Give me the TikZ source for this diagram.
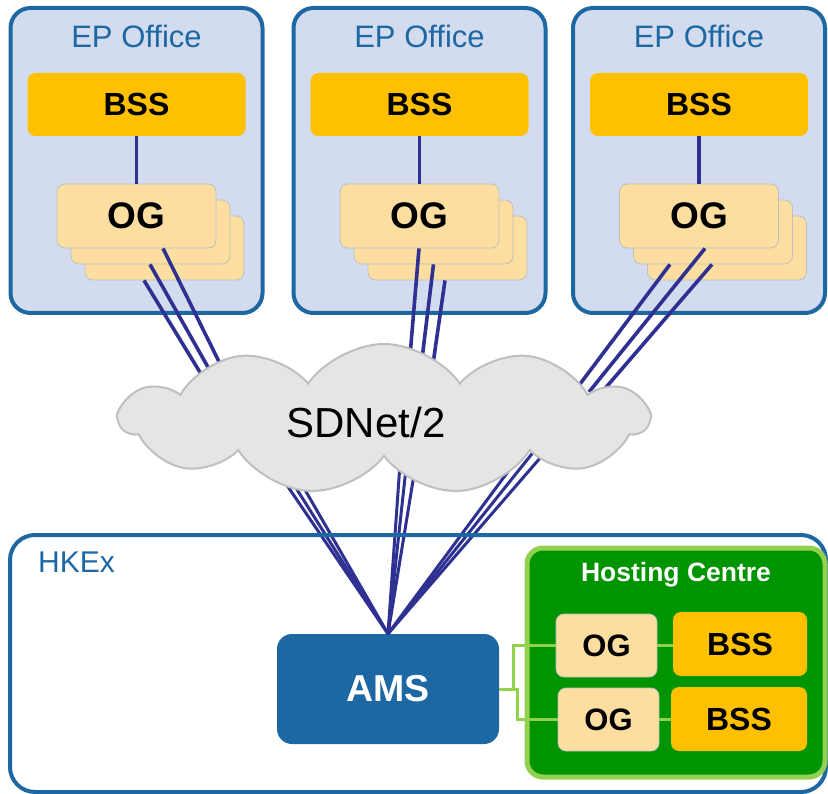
\documentclass[tikz,border=0pt]{standalone}
\usepackage{fontspec}
\setmainfont{Liberation Sans}
\usetikzlibrary{calc,shapes.symbols}

\definecolor{epblue}{RGB}{29,104,162}
\definecolor{epfill}{RGB}{211,220,238}
\definecolor{bssorange}{RGB}{255,192,0}
\definecolor{ogpeach}{RGB}{252,222,160}
\definecolor{oggrey}{RGB}{191,191,191}
\definecolor{linknavy}{RGB}{46,49,146}
\definecolor{cloudgrey}{RGB}{229,229,229}
\definecolor{hcgreen}{RGB}{0,148,0}
\definecolor{hclight}{RGB}{146,208,80}

\tikzset{
	office/.style={draw=epblue, line width=4pt, fill=epfill, rounded corners=20pt, minimum width=252pt, minimum height=305pt, inner sep=0pt},
	bssbox/.style={fill=bssorange, rounded corners=8pt, minimum width=218pt, minimum height=63pt, inner sep=0pt, font=\fontsize{32}{36}\selectfont\bfseries},
	ogbox/.style={draw=oggrey, line width=0.8pt, fill=ogpeach, rounded corners=8pt, minimum width=159pt, minimum height=64pt, inner sep=0pt, font=\fontsize{37}{42}\selectfont\bfseries},
	navylink/.style={draw=linknavy, line width=3.6pt},
	greenlink/.style={draw=hclight, line width=3pt},
}

\begin{document}
\begin{tikzpicture}[x=1pt, y=-1pt]
			%%%%% START %%%%%
			\useasboundingbox (0,0) rectangle (828,794);
			
			% the three EP offices
			\foreach \cx/\n in {136.5/1, 419.5/2, 699/3} {
				\node[office] (ep\n) at (\cx,160.5) {};
				\node[text=epblue, font=\fontsize{31}{36}\selectfont, inner sep=0pt] (eplabel\n) at (\cx,36) {EP Office};
				\node[bssbox] (bss\n) at (\cx,104.5) {BSS};
				\node[ogbox] (ogc\n) at (\cx+28,248) {};
				\node[ogbox] (ogb\n) at (\cx+14,232) {};
				\node[ogbox] (og\n) at (\cx,216) {OG};
				\draw[navylink] (bss\n) -- (og\n);
			}
			
			% OG to cloud
			\coordinate (in1a) at (234,392);
			\coordinate (in1b) at (222,392);
			\coordinate (in1c) at (212,392);
			\coordinate (in2a) at (407,392);
			\coordinate (in2b) at (418,392);
			\coordinate (in2c) at (429,392);
			\coordinate (in3a) at (589,392);
			\coordinate (in3b) at (574,392);
			\coordinate (in3c) at (602,392);
			\draw[navylink] ($(og1.south)+(26.5,0)$) -- (in1a);
			\draw[navylink] ($(ogb1.south)+(-0.5,0)$) -- (in1b);
			\draw[navylink] ($(ogc1.south)+(-20.5,0)$) -- (in1c);
			\draw[navylink] ($(og2.south)+(-0.5,0)$) -- (in2a);
			\draw[navylink] (ogb2.south) -- (in2b);
			\draw[navylink] ($(ogc2.south)+(-2.5,0)$) -- (in2c);
			\draw[navylink] ($(og3.south)+(6,0)$) -- (in3a);
			\draw[navylink] ($(ogb3.south)+(-43,0)$) -- (in3b);
			\draw[navylink] ($(ogb3.south)+(-1,0)$) -- (in3c);
			
			% AMS
			\node[fill=epblue, rounded corners=15pt, minimum width=222pt, minimum height=110pt, inner sep=0pt, text=white, font=\fontsize{37.5}{42}\selectfont\bfseries] (ams) at (388,689) {AMS};
			
			% cloud to AMS
			\foreach \x in {263, 272, 282, 401, 408, 418, 524, 535, 547}
				\draw[navylink, line width=3pt] (ams.north) -- (\x,450);
			
			\node[cloud, cloud puffs=11, cloud puff arc=110, aspect=3.4, draw=oggrey, fill=cloudgrey, line width=2pt, minimum width=528pt, minimum height=150pt, inner sep=0pt] (sdnet) at (384,419) {};
			\node[font=\fontsize{42}{48}\selectfont, inner sep=0pt] (sdnetlabel) at (366,422) {SDNet/2};
			
			% HKEx
			\node[draw=epblue, line width=4pt, rounded corners=25pt, minimum width=816pt, minimum height=257pt, inner sep=0pt] (hkex) at (418,663.5) {};
			\node[anchor=west, text=epblue, font=\fontsize{30}{34}\selectfont, inner sep=0pt] (hkexlabel) at (38,562) {HKEx};
			
			% hosting centre
			\draw[greenlink] (ams.east) -- ++(14,0) |- (606,645.5);
			\draw[greenlink] (ams.east) -- ++(18,0) |- (608,719.5);
			\node[draw=hclight, fill=hcgreen, line width=5pt, rounded corners=16pt, minimum width=298pt, minimum height=229pt, inner sep=0pt] (hc) at (676,662.5) {};
			\node[text=white, font=\fontsize{26.5}{30}\selectfont\bfseries, inner sep=0pt] (hclabel) at (676,575) {Hosting Centre};
			\node[ogbox, minimum width=101pt, minimum height=63pt, font=\fontsize{31}{36}\selectfont\bfseries] (og4) at (606.5,645.5) {OG};
			\node[ogbox, minimum width=101pt, minimum height=63pt, font=\fontsize{31}{36}\selectfont\bfseries] (og5) at (608.5,719.5) {OG};
			\node[bssbox, minimum width=134pt, minimum height=64pt] (bss4) at (740,644) {BSS};
			\node[bssbox, minimum width=136pt, minimum height=64pt] (bss5) at (739,719) {BSS};
			\draw[greenlink] (ams.east) -- ++(14,0) |- (og4.west);
			\draw[greenlink] (ams.east) -- ++(18,0) |- (og5.west);
			\draw[greenlink] (og4.east) -- (og4.east -| bss4.west);
			\draw[greenlink] (og5.east) -- (og5.east -| bss5.west);
			
			%%%%% END %%%%%
\end{tikzpicture}
\end{document}
